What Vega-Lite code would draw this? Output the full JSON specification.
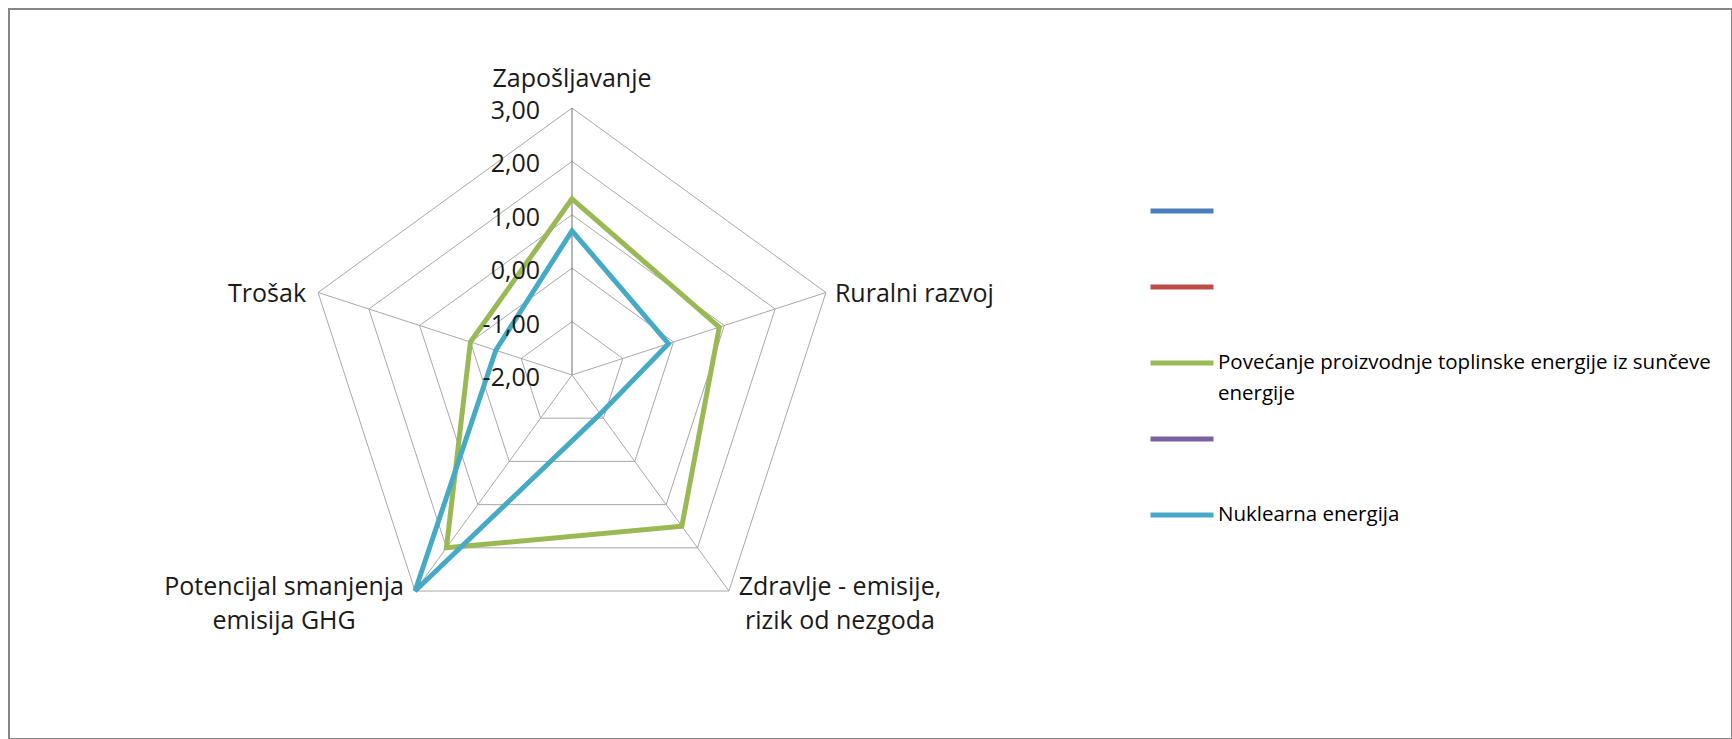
{
  "$schema": "https://vega.github.io/schema/vega-lite/v6.json",
  "width": 1723,
  "height": 730,
  "padding": {"left": 9, "top": 9, "right": 0, "bottom": 0},
  "autosize": {"type": "none"},
  "background": "white",
  "config": {
    "view": {"stroke": "#868686", "strokeWidth": 2},
    "font": "Open Sans",
    "text": {"font": "Open Sans", "color": "#1a1a1a"}
  },
  "datasets": {
    "scores": [
      {"series": "Povećanje proizvodnje toplinske energije iz sunčeve energije", "axis": "Zapošljavanje", "idx": 0, "value": 1.3},
      {"series": "Povećanje proizvodnje toplinske energije iz sunčeve energije", "axis": "Ruralni razvoj", "idx": 1, "value": 0.9},
      {"series": "Povećanje proizvodnje toplinske energije iz sunčeve energije", "axis": "Zdravlje - emisije, rizik od nezgoda", "idx": 2, "value": 1.5},
      {"series": "Povećanje proizvodnje toplinske energije iz sunčeve energije", "axis": "Potencijal smanjenja emisija GHG", "idx": 3, "value": 2.0},
      {"series": "Povećanje proizvodnje toplinske energije iz sunčeve energije", "axis": "Trošak", "idx": 4, "value": 0.0},
      {"series": "Nuklearna energija", "axis": "Zapošljavanje", "idx": 0, "value": 0.7},
      {"series": "Nuklearna energija", "axis": "Ruralni razvoj", "idx": 1, "value": -0.1},
      {"series": "Nuklearna energija", "axis": "Zdravlje - emisije, rizik od nezgoda", "idx": 2, "value": -1.1},
      {"series": "Nuklearna energija", "axis": "Potencijal smanjenja emisija GHG", "idx": 3, "value": 3.0},
      {"series": "Nuklearna energija", "axis": "Trošak", "idx": 4, "value": -0.5}
    ],
    "grid": [
      {"level": -1, "idx": 0}, {"level": -1, "idx": 1}, {"level": -1, "idx": 2}, {"level": -1, "idx": 3}, {"level": -1, "idx": 4},
      {"level": 0, "idx": 0}, {"level": 0, "idx": 1}, {"level": 0, "idx": 2}, {"level": 0, "idx": 3}, {"level": 0, "idx": 4},
      {"level": 1, "idx": 0}, {"level": 1, "idx": 1}, {"level": 1, "idx": 2}, {"level": 1, "idx": 3}, {"level": 1, "idx": 4},
      {"level": 2, "idx": 0}, {"level": 2, "idx": 1}, {"level": 2, "idx": 2}, {"level": 2, "idx": 3}, {"level": 2, "idx": 4},
      {"level": 3, "idx": 0}, {"level": 3, "idx": 1}, {"level": 3, "idx": 2}, {"level": 3, "idx": 3}, {"level": 3, "idx": 4}
    ],
    "ticks": [
      {"level": 3, "label": "3,00"},
      {"level": 2, "label": "2,00"},
      {"level": 1, "label": "1,00"},
      {"level": 0, "label": "0,00"},
      {"level": -1, "label": "-1,00"},
      {"level": -2, "label": "-2,00"}
    ],
    "cats": [
      {"idx": 0, "name": "Zapošljavanje"},
      {"idx": 1, "name": "Ruralni razvoj"},
      {"idx": 2, "name": "Zdravlje - emisije,\nrizik od nezgoda"},
      {"idx": 3, "name": "Potencijal smanjenja\nemisija GHG"},
      {"idx": 4, "name": "Trošak"}
    ]
  },
  "encoding": {
    "x": {"field": "x", "type": "quantitative", "scale": {"domain": [-10.543, 21.723], "nice": false, "zero": false}, "axis": null},
    "y": {"field": "y", "type": "quantitative", "scale": {"domain": [-6.816, 6.854], "nice": false, "zero": false}, "axis": null}
  },
  "layer": [
    {
      "data": {"name": "grid"},
      "transform": [
        {"calculate": "(datum.level + 2) * sin(datum.idx * 2 * PI / 5)", "as": "x"},
        {"calculate": "(datum.level + 2) * cos(datum.idx * 2 * PI / 5)", "as": "y"}
      ],
      "mark": {"type": "line", "interpolate": "linear-closed", "stroke": "#A8A8A8", "strokeWidth": 1},
      "encoding": {
        "detail": {"field": "level", "type": "nominal"},
        "order": {"field": "idx", "type": "quantitative"}
      }
    },
    {
      "data": {"name": "grid"},
      "transform": [
        {"filter": "datum.level === 3"},
        {"calculate": "5 * sin(datum.idx * 2 * PI / 5)", "as": "x"},
        {"calculate": "5 * cos(datum.idx * 2 * PI / 5)", "as": "y"}
      ],
      "mark": {"type": "rule", "strokeWidth": 1},
      "encoding": {
        "x2": {"datum": 0},
        "y2": {"datum": 0},
        "color": {"condition": {"test": "datum.idx === 0", "value": "#6e6e6e"}, "value": "#A8A8A8"}
      }
    },
    {
      "data": {"name": "scores"},
      "transform": [
        {"calculate": "(datum.value + 2) * sin(datum.idx * 2 * PI / 5)", "as": "x"},
        {"calculate": "(datum.value + 2) * cos(datum.idx * 2 * PI / 5)", "as": "y"}
      ],
      "mark": {"type": "line", "interpolate": "linear-closed", "strokeWidth": 5},
      "encoding": {
        "order": {"field": "idx", "type": "quantitative"},
        "color": {
          "field": "series",
          "type": "nominal",
          "scale": {
            "domain": ["Serija 1", "Serija 2", "Povećanje proizvodnje toplinske energije iz sunčeve energije", "Serija 4", "Nuklearna energija"],
            "range": ["#4A7EBB", "#BE4B48", "#98B954", "#7D60A0", "#46AAC5"]
          },
          "legend": {
            "orient": "none",
            "direction": "vertical",
            "legendX": 1139,
            "legendY": 168,
            "title": null,
            "padding": 0,
            "symbolType": "stroke",
            "symbolSize": 3969,
            "symbolStrokeWidth": 5,
            "labelFont": "Open Sans",
            "labelFontSize": 20.5,
            "labelColor": "#000000",
            "labelOffset": 2,
            "labelLimit": 800,
            "rowPadding": -0.5,
            "gridAlign": "all",
            "labelExpr": "datum.value === 'Povećanje proizvodnje toplinske energije iz sunčeve energije' ? ['Povećanje proizvodnje toplinske energije iz sunčeve', 'energije'] : (datum.value === 'Nuklearna energija' ? datum.label : '')",
            "encode": {
              "labels": {
                "update": {
                  "lineHeight": {"value": 31}
                }
              }
            }
          }
        }
      }
    },
    {
      "data": {"name": "ticks"},
      "transform": [
        {"calculate": "0", "as": "x"},
        {"calculate": "datum.level + 2", "as": "y"}
      ],
      "mark": {"type": "text", "align": "right", "baseline": "middle", "dx": -32, "dy": 3, "fontSize": 25},
      "encoding": {"text": {"field": "label", "type": "nominal"}}
    },
    {
      "data": {"name": "cats"},
      "transform": [
        {"filter": "datum.idx === 0"},
        {"calculate": "5 * sin(datum.idx * 2 * PI / 5)", "as": "x"},
        {"calculate": "5 * cos(datum.idx * 2 * PI / 5)", "as": "y"}
      ],
      "mark": {"type": "text", "align": "center", "baseline": "middle", "dy": -29, "fontSize": 25},
      "encoding": {"text": {"field": "name", "type": "nominal"}}
    },
    {
      "data": {"name": "cats"},
      "transform": [
        {"filter": "datum.idx === 1"},
        {"calculate": "5 * sin(datum.idx * 2 * PI / 5)", "as": "x"},
        {"calculate": "5 * cos(datum.idx * 2 * PI / 5)", "as": "y"}
      ],
      "mark": {"type": "text", "align": "left", "baseline": "middle", "dx": 9, "dy": 1, "fontSize": 25},
      "encoding": {"text": {"field": "name", "type": "nominal"}}
    },
    {
      "data": {"name": "cats"},
      "transform": [
        {"filter": "datum.idx === 2"},
        {"calculate": "5 * sin(datum.idx * 2 * PI / 5)", "as": "x"},
        {"calculate": "5 * cos(datum.idx * 2 * PI / 5)", "as": "y"}
      ],
      "mark": {"type": "text", "align": "center", "baseline": "top", "dx": 111, "dy": -16, "fontSize": 25, "lineBreak": "\n", "lineHeight": 33.5},
      "encoding": {"text": {"field": "name", "type": "nominal"}}
    },
    {
      "data": {"name": "cats"},
      "transform": [
        {"filter": "datum.idx === 3"},
        {"calculate": "5 * sin(datum.idx * 2 * PI / 5)", "as": "x"},
        {"calculate": "5 * cos(datum.idx * 2 * PI / 5)", "as": "y"}
      ],
      "mark": {"type": "text", "align": "center", "baseline": "top", "dx": -131, "dy": -16, "fontSize": 25, "lineBreak": "\n", "lineHeight": 33.5},
      "encoding": {"text": {"field": "name", "type": "nominal"}}
    },
    {
      "data": {"name": "cats"},
      "transform": [
        {"filter": "datum.idx === 4"},
        {"calculate": "5 * sin(datum.idx * 2 * PI / 5)", "as": "x"},
        {"calculate": "5 * cos(datum.idx * 2 * PI / 5)", "as": "y"}
      ],
      "mark": {"type": "text", "align": "right", "baseline": "middle", "dx": -12, "dy": 1, "fontSize": 25},
      "encoding": {"text": {"field": "name", "type": "nominal"}}
    }
  ]
}
